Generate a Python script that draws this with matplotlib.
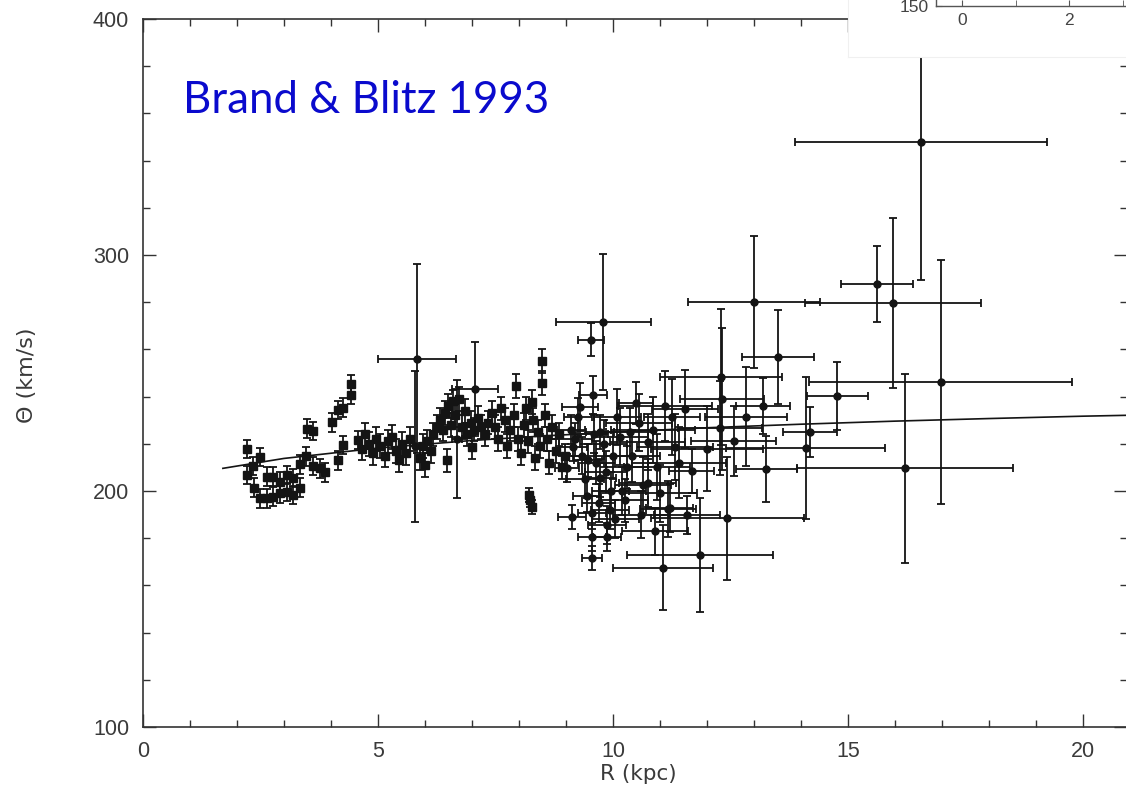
import matplotlib
matplotlib.use('Agg')
import matplotlib.pyplot as plt
from matplotlib.ticker import MultipleLocator, FixedLocator

plt.rcParams['font.family'] = ['Liberation Sans', 'DejaVu Sans']

# ---------------- data ----------------
# model rotation curve
curve_R = [1.7, 3.0, 5.0, 7.0, 8.5, 10.0, 12.0, 14.0, 16.0, 18.0, 20.0, 21.0]
curve_T = [209.6, 213.8, 218.2, 221.4, 223.3, 224.9, 226.8, 228.3, 229.6, 230.7, 231.7, 232.1]

# inner tangent-point / small-error data (square markers)
inner_R = [2.21, 2.49, 2.34, 2.21, 2.36, 2.49, 2.64, 2.77, 2.91, 3.06, 3.19, 2.64, 2.77, 2.91,
           3.06, 3.19, 3.34, 3.34, 3.47, 3.49, 3.62, 3.62, 3.77, 3.87, 4.02, 4.15, 4.26, 4.43,
           4.43, 4.15, 4.26, 4.57,
           4.65, 4.72, 4.80, 4.90, 4.95, 5.05, 5.15, 5.22, 5.30, 5.38, 5.45, 5.52, 5.60, 5.68,
           5.90, 5.95, 6.05, 6.12, 6.18, 6.25, 6.32, 6.38, 6.42, 6.50, 6.55, 6.60, 6.65, 6.72,
           6.78, 6.85, 6.90, 6.98, 7.05, 7.12, 7.20, 7.28, 7.35, 7.42, 7.50, 7.55, 7.62, 7.70,
           7.75, 7.82, 7.90, 7.94, 7.98, 8.05, 8.10, 8.15, 8.20, 8.28, 8.30, 8.35, 8.40, 8.45,
           8.49, 8.49, 8.55, 8.60, 8.65, 8.70, 8.78, 8.85, 8.92, 8.98, 8.21, 8.24, 8.27, 6.47,
           7.00, 6.00]
inner_T = [217.8, 214.4, 210.6, 206.8, 201.3, 197.0, 197.0, 197.5, 199.0, 199.6, 198.3, 206.0,
           206.0, 204.0, 206.8, 205.5, 201.3, 211.4, 214.8, 226.3, 225.4, 210.6, 209.7, 208.0,
           229.2, 234.3, 235.2, 240.7, 245.3, 213.1, 219.5, 221.6,
           218, 224, 220, 216, 222, 219, 215, 221, 223, 217, 213, 220, 216, 222,
           214, 219, 221, 217, 224, 227, 230, 226, 233, 236, 228, 238, 232, 239,
           227, 234, 224, 229, 226, 231, 227, 224, 229, 233, 227, 222, 235, 230,
           219, 226, 232, 244.5, 222, 216, 228, 235, 221, 237.7, 230, 214, 225, 219,
           255, 245.8, 232, 222, 212, 227, 217, 224, 210, 215, 198.3, 196.2, 193.2, 213,
           218.6, 211]
inner_eT = [4] * 32 + [5] * 66 + [3] * 3 + [5] * 3

# outer / large-error data (filled circles)
outer_R = [5.83, 5.78, 7.06, 6.68,
           9.02, 9.13, 9.15, 9.30, 9.26, 9.47, 9.53, 9.55, 9.55, 9.55, 9.57, 9.60, 9.72, 9.72,
           9.79, 9.87, 9.87, 9.94, 10.00, 10.09, 10.20, 10.30, 10.36, 10.49, 10.64, 10.74, 10.74,
           10.94, 11.06, 11.17, 11.21, 11.26, 11.32, 11.53, 11.57, 11.68, 11.85, 12.28, 12.30,
           12.32, 12.43, 12.57, 12.83, 13.00, 13.19, 13.26, 13.51, 14.10, 14.19, 14.77, 15.62,
           15.96, 16.21, 16.55, 16.98,
           9.10, 9.20, 9.35, 9.40, 9.45, 9.65, 9.70, 9.80, 9.85, 9.95, 10.05, 10.15, 10.25,
           10.40, 10.55, 10.60, 10.85, 11.00, 11.40, 11.10, 12.00, 10.90]
outer_T = [256.0, 219.0, 243.2, 222.0,
           209.7, 189.0, 218.6, 235.6, 231.4, 213.0, 264.0, 190.7, 180.5, 171.6, 240.7, 224.0,
           205.5, 225.0, 271.6, 185.6, 180.5, 192.0, 215.0, 231.4, 200.0, 210.0, 225.0, 237.3,
           202.5, 220.8, 203.4,
           210.2, 167.4, 192.4, 192.8, 231.4, 218.6, 234.7, 189.8, 208.5, 172.9, 226.7, 248.3,
           239.0, 188.5, 221.2, 231.4, 280.1, 236.0, 209.3, 256.8, 218.2, 225.0, 240.3, 287.7,
           279.7, 209.7, 347.9, 246.2,
           226, 222, 215, 205, 198, 212, 195, 220, 208, 200, 188, 223, 196,
           215, 229, 190, 226, 199, 212, 236, 218, 183]
outer_eR = [0.83, 0.10, 0.49, 0.10,
            0.25, 0.30, 0.30, 0.38, 0.30, 0.30, 0.28, 0.30, 0.30, 0.21, 0.30, 0.30, 0.35, 0.30,
            1.01, 0.40, 0.30, 0.40, 0.40, 0.50, 0.50, 0.45, 0.50, 0.36, 0.60, 0.80, 0.60,
            0.70, 1.06, 0.60, 0.50, 0.60, 0.80, 0.70, 0.70, 0.48, 1.55, 0.90, 1.30,
            0.90, 1.63, 0.90, 0.87, 1.40, 0.57, 0.65, 0.77, 1.70, 0.57, 0.65, 0.77,
            1.87, 2.30, 2.68, 2.80,
            0.30, 0.35, 0.30, 0.40, 0.30, 0.40, 0.35, 0.50, 0.45, 0.40, 0.50, 0.60, 0.50,
            0.60, 0.70, 0.60, 0.90, 0.80, 1.00, 1.00, 1.20, 0.70]
outer_eT = [40, 32, 20, 25,
            6, 5, 6, 10, 8, 7, 7, 7, 6, 5, 8, 8, 8, 7, 29, 8, 6, 8, 10, 12, 10, 9, 10, 9,
            12, 12, 10,
            14, 18, 12, 10, 16, 14, 16.5, 8, 9.5, 24, 20, 29,
            30, 26, 15, 21, 28, 12, 14, 20, 30, 10.6, 14.5, 16,
            36, 40, 58.5, 51.5,
            6, 7, 8, 8, 7, 9, 8, 10, 9, 8, 8, 12, 9,
            11, 12, 10, 14, 12, 15, 15, 18, 10]

# axis settings
x_major = [0, 5, 10, 15, 20]
y_major = [100, 200, 300, 400]

# ---------------- figure ----------------
W, H = 1126, 793
fig = plt.figure(figsize=(W / 100, H / 100), dpi=100)
ax = fig.add_axes([143 / W, 66 / H, 984 / W, 708 / H])
ax.set_xlim(0, 20.94)
ax.set_ylim(100, 400)

ink = '#141414'
ax.plot(curve_R, curve_T, color=ink, lw=1.2, zorder=2)
ax.errorbar(inner_R, inner_T, yerr=inner_eT, fmt='s', ms=5.2, color=ink, mfc=ink, mec=ink,
            ecolor=ink, elinewidth=1.3, capsize=3.2, capthick=1.3, zorder=3)
ax.errorbar(outer_R, outer_T, xerr=outer_eR, yerr=outer_eT, fmt='o', ms=5, color=ink,
            mfc=ink, mec=ink, ecolor=ink, elinewidth=1.3, capsize=3, capthick=1.3, zorder=3)

ax.xaxis.set_major_locator(FixedLocator(x_major))
ax.xaxis.set_minor_locator(MultipleLocator(1))
ax.yaxis.set_major_locator(FixedLocator(y_major))
ax.yaxis.set_minor_locator(MultipleLocator(20))
ax.tick_params(which='both', direction='in', top=True, right=True, colors='#333333',
               labelcolor='#3a3a3a', labelsize=15.5, width=1.0)
ax.tick_params(which='major', length=9.5, pad=10)
ax.tick_params(which='minor', length=5)
for s in ax.spines.values():
    s.set_color('#333333')
    s.set_linewidth(1.2)

ax.set_xlabel('R (kpc)', fontsize=15.5, color='#3a3a3a', family=['DejaVu Sans'])
ax.xaxis.set_label_coords((638 - 143) / 984, (727 - 764) / 708)
ax.set_ylabel('Θ (km/s)', fontsize=16, color='#3a3a3a', family=['DejaVu Sans'])
ax.yaxis.set_label_coords((37 - 143) / 984, (727 - 375) / 708)

fig.text(183 / W, 1 - 113 / H, 'Brand & Blitz 1993', fontsize=31.5, color='#0a0acd',
         family=['Lato', 'DejaVu Sans'], va='baseline', ha='left')

# white patch with a fragment of another figure (top-right corner)
cover = fig.add_axes([848 / W, 1 - 57 / H, 280 / W, 60 / H], zorder=5)
cover.set_facecolor('white')
cover.set_xticks([])
cover.set_yticks([])
for s in cover.spines.values():
    s.set_color('#f0f0f0')

ins = fig.add_axes([936 / W, 1 - 6 / H, 192 / W, 40 / H], zorder=6)
ins.patch.set_alpha(0)
ins.set_xlim(-0.49, 3.1)
ins.set_ylim(150, 300)
ins.spines['top'].set_visible(False)
ins.spines['right'].set_visible(False)
for s in ('left', 'bottom'):
    ins.spines[s].set_color('#555555')
    ins.spines[s].set_linewidth(1.0)
ins.set_xticks([0, 2])
ins.set_xticklabels(['0', '2'])
ins.xaxis.set_minor_locator(FixedLocator([1, 3]))
ins.set_yticks([150])
ins.set_yticklabels(['150'])
ins.tick_params(which='both', direction='in', length=4, colors='#555555', labelsize=12.5,
                labelcolor='#444444', pad=5)

fig.savefig('out.png', dpi=100, facecolor='white')
